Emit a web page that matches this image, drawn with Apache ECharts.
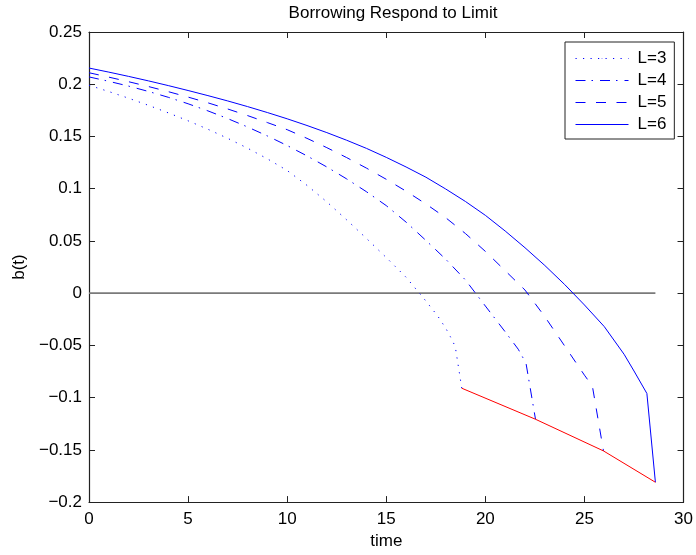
<!DOCTYPE html>
<html>
<head>
<meta charset="utf-8">
<title>Borrowing Respond to Limit</title>
<script src="https://cdn.jsdelivr.net/npm/echarts@6/dist/echarts.min.js"></script>
<style>
  html, body { margin: 0; padding: 0; background: #fff; }
  #chart { width: 696px; height: 555px; }
</style>
</head>
<body>
<div id="chart"></div>
<script>
// Borrowing path b(t) over time for each borrowing limit L
const seriesNames = ['L=3', 'L=4', 'L=5', 'L=6'];

const timeL3 = [0, 1, 2, 3, 4, 5, 6, 7, 8, 9, 10, 11, 12, 13, 14, 15, 16, 17, 17.6, 18, 18.23, 18.48, 18.81];
const borrowL3 = [0.199, 0.193, 0.1866, 0.1798, 0.1726, 0.165, 0.1569, 0.1482, 0.1388, 0.1286, 0.1174, 0.1032, 0.0874, 0.0702, 0.0524, 0.0341, 0.0152, -0.0075, -0.022, -0.0335, -0.0415, -0.051, -0.091];

const timeL4 = [0, 1, 2, 3, 4, 5, 6, 7, 8, 9, 10, 11, 12, 13, 14, 15, 16, 17, 18, 19, 20, 21, 21.66, 22.05, 22.53];
const borrowL4 = [0.207, 0.2028, 0.1982, 0.1931, 0.1875, 0.1813, 0.1745, 0.1671, 0.1591, 0.1505, 0.1413, 0.1314, 0.1208, 0.1094, 0.0971, 0.0838, 0.068, 0.0505, 0.0325, 0.0125, -0.0123, -0.037, -0.0537, -0.067, -0.1207];

const timeL5 = [0, 1, 2, 3, 4, 5, 6, 7, 8, 9, 10, 11, 12, 13, 14, 15, 16, 17, 18, 19, 20, 21, 22, 23, 24, 25, 25.4, 25.96];
const borrowL5 = [0.211, 0.2068, 0.2024, 0.1978, 0.1929, 0.1877, 0.1822, 0.1763, 0.17, 0.1633, 0.1565, 0.1482, 0.1393, 0.1298, 0.1197, 0.109, 0.0976, 0.0854, 0.0722, 0.057, 0.04, 0.0215, 0.003, -0.0225, -0.0505, -0.0785, -0.089, -0.151];

const timeL6 = [0, 1, 2, 3, 4, 5, 6, 7, 8, 9, 10, 11, 12, 13, 14, 15, 16, 17, 18, 19, 20, 21, 22, 23, 24, 25, 26, 27, 27.5, 28.15, 28.58];
const borrowL6 = [0.2155, 0.2116, 0.2075, 0.2032, 0.1987, 0.194, 0.1891, 0.184, 0.1786, 0.1729, 0.1669, 0.1605, 0.1537, 0.1464, 0.1386, 0.13, 0.1208, 0.111, 0.0997, 0.0877, 0.0745, 0.0595, 0.0435, 0.0265, 0.0083, -0.0113, -0.032, -0.0585, -0.0745, -0.096, -0.181];

// End points where each path reaches its limit
const limitTime = [18.81, 22.53, 25.96, 28.58];
const limitBorrow = [-0.091, -0.1207, -0.151, -0.181];

// Zero reference line
const zeroTime = [0, 28.58];
const zeroBorrow = [0, 0];

// Axis ticks
const xTicks = [0, 5, 10, 15, 20, 25, 30];
const yTicks = [-0.2, -0.15, -0.1, -0.05, 0, 0.05, 0.1, 0.15, 0.2, 0.25];

const zip = (xs, ys) => xs.map((x, i) => [x, ys[i]]);

const FONT = '"Liberation Sans", Arial, Helvetica, sans-serif';
const AXIS_COLOR = '#222';
const BLUE = '#0000ff';

const fmtY = v => {
  const s = String(Math.round(v * 100) / 100);
  return s.replace('-', '\u2212');
};

function axisCommon(extra) {
  return Object.assign({
    type: 'value',
    axisLine: { show: true, onZero: false, lineStyle: { color: AXIS_COLOR, width: 1.2 } },
    axisTick: { show: true, inside: true, length: 6, lineStyle: { color: AXIS_COLOR, width: 1 } },
    splitLine: { show: false },
    axisLabel: { show: false }
  }, extra);
}

const xMin = xTicks[0], xMax = xTicks[xTicks.length - 1], xStep = xTicks[1] - xTicks[0];
const yMin = yTicks[0], yMax = yTicks[yTicks.length - 1], yStep = 0.05;

const pathSeries = (name, xs, ys, type) => ({
  name: name,
  type: 'line',
  data: zip(xs, ys),
  symbol: 'none',
  silent: true,
  z: 3,
  lineStyle: { color: BLUE, width: 1, type: type },
  itemStyle: { color: BLUE }
});

const option = {
  animation: false,
  backgroundColor: '#fff',
  textStyle: { fontFamily: FONT },
  title: {
    text: 'Borrowing Respond to Limit',
    left: 388,
    top: 0,
    textAlign: 'center',
    textStyle: { fontFamily: FONT, fontSize: 17, fontWeight: 'normal', color: '#000' }
  },
  grid: { left: 89, right: 10, top: 32, bottom: 52, containLabel: false },
  legend: {
    data: seriesNames,
    orient: 'vertical',
    left: 565,
    top: 42,
    padding: [8, 8, 6, 10],
    itemWidth: 53,
    itemHeight: 1,
    itemGap: 5,
    borderColor: '#222',
    borderWidth: 1,
    backgroundColor: '#fff',
    lineStyle: { width: 1 },
    textStyle: { fontFamily: FONT, fontSize: 17, color: '#000', padding: [0, 0, 0, 4] }
  },
  xAxis: [
    axisCommon({
      min: xMin, max: xMax, interval: xStep,
      name: 'time',
      nameLocation: 'middle',
      nameGap: 28,
      nameTextStyle: { fontFamily: FONT, fontSize: 17, color: '#000' },
      axisLabel: { show: true, margin: 9, fontFamily: FONT, fontSize: 17, color: '#000' }
    }),
    axisCommon({ min: xMin, max: xMax, interval: xStep, position: 'top' })
  ],
  yAxis: [
    axisCommon({
      min: yMin, max: yMax, interval: yStep,
      name: 'b(t)',
      nameLocation: 'middle',
      nameGap: 61,
      nameTextStyle: { fontFamily: FONT, fontSize: 17, color: '#000' },
      axisLabel: { show: true, margin: 7, fontFamily: FONT, fontSize: 17, color: '#000', formatter: fmtY }
    }),
    axisCommon({ min: yMin, max: yMax, interval: yStep, position: 'right' })
  ],
  series: [
    {
      name: 'zero',
      type: 'line',
      data: zip(zeroTime, zeroBorrow),
      symbol: 'none',
      silent: true,
      z: 2,
      lineStyle: { color: '#7a7a7a', width: 1.6 }
    },
    pathSeries('L=3', timeL3, borrowL3, [1.2, 6.3]),
    pathSeries('L=4', timeL4, borrowL4, [10, 6, 1.5, 7]),
    pathSeries('L=5', timeL5, borrowL5, [10, 10.5]),
    pathSeries('L=6', timeL6, borrowL6, 'solid'),
    {
      name: 'limit',
      type: 'line',
      data: zip(limitTime, limitBorrow),
      symbol: 'none',
      silent: true,
      z: 4,
      lineStyle: { color: '#ff0000', width: 1 }
    }
  ]
};

const chart = echarts.init(document.getElementById('chart'), null, { renderer: 'canvas' });
chart.setOption(option);
</script>
</body>
</html>
